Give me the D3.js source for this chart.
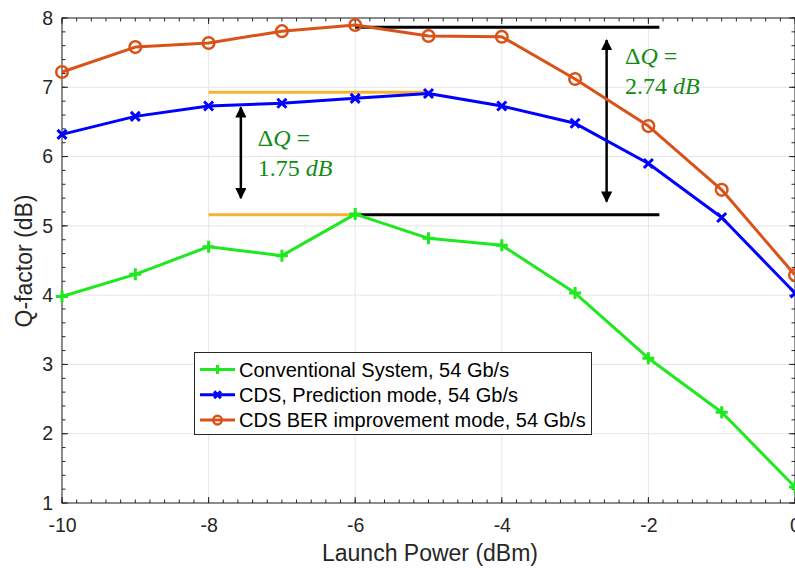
<!DOCTYPE html>
<html><head><meta charset="utf-8">
<script src="https://cdn.jsdelivr.net/npm/d3@7"></script>
<style>body{margin:0;background:#fff}svg{display:block}</style>
</head><body>
<svg id="c" width="795" height="568"></svg>
<script>
const launchPower = [-10,-9,-8,-7,-6,-5,-4,-3,-2,-1,0];
const conventional = [3.98,4.30,4.70,4.57,5.17,4.82,4.72,4.03,3.09,2.31,1.23];
const cdsPrediction = [6.32,6.58,6.73,6.77,6.84,6.91,6.73,6.48,5.90,5.12,4.03];
const cdsBER = [7.22,7.58,7.64,7.81,7.90,7.74,7.73,7.12,6.44,5.52,4.29];
const seriesNames = ["Conventional System, 54 Gb/s","CDS, Prediction mode, 54 Gb/s","CDS BER improvement mode, 54 Gb/s"];
const xTicks = [-10,-8,-6,-4,-2,0];
const yTicks = [1,2,3,4,5,6,7,8];
// annotation reference lines: [x1,x2,y]
const yellowLines = [[-8,-5,6.93],[-8,-6,5.16]];
const blackLines = [[-6,-1.85,5.16],[-6,-1.85,7.865]];
// arrows: [x,yTop,yBottom]
const arrows = [[-7.56,6.71,5.40],[-2.57,7.68,5.35]];
// labels: [x, y line1, y line2, value]
const deltaLabels = [[-7.33,6.15,5.72,"1.75"],[-2.32,7.33,6.91,"2.74"]];

const svg = d3.select("#c");
const L=62,R=795,T=18,B=503;
const x = d3.scaleLinear().domain([-10,0]).range([L,R]);
const y = d3.scaleLinear().domain([1,8]).range([B,T]);
const tickCol="#262626";
const sans="Liberation Sans, Arial, sans-serif";

// grid
const g = svg.append("g");
g.selectAll(".gx").data(xTicks).join("line").attr("x1",d=>x(d)).attr("x2",d=>x(d)).attr("y1",T).attr("y2",B).attr("stroke","#e6e6e6").attr("stroke-width",1);
g.selectAll(".gy").data(yTicks).join("line").attr("y1",d=>y(d)).attr("y2",d=>y(d)).attr("x1",L).attr("x2",R).attr("stroke","#e6e6e6").attr("stroke-width",1);

// axes with inward ticks on all sides
const minorX = d3.range(-10,0.001,0.2).map(v=>+v.toFixed(2));
const minorY = d3.range(1,8.001,0.2).map(v=>+v.toFixed(2));
const ax = svg.append("g").attr("stroke",tickCol).attr("stroke-width",1);
ax.append("rect").attr("x",L).attr("y",T).attr("width",R-L).attr("height",B-T).attr("fill","none");
function xt(vals,len){
  ax.selectAll(null).data(vals).join("line").attr("x1",d=>x(d)).attr("x2",d=>x(d)).attr("y1",B).attr("y2",B-len);
  ax.selectAll(null).data(vals).join("line").attr("x1",d=>x(d)).attr("x2",d=>x(d)).attr("y1",T).attr("y2",T+len);
}
function yt(vals,len){
  ax.selectAll(null).data(vals).join("line").attr("y1",d=>y(d)).attr("y2",d=>y(d)).attr("x1",L).attr("x2",L+len);
  ax.selectAll(null).data(vals).join("line").attr("y1",d=>y(d)).attr("y2",d=>y(d)).attr("x1",R).attr("x2",R-len);
}
xt(minorX,3.5); xt(xTicks,6); yt(minorY,3.5); yt(yTicks,6);

const xAxis = d3.axisBottom(x).tickValues(xTicks).tickSize(0).tickPadding(15).tickFormat(d=>String(d));
const xa = svg.append("g").attr("transform",`translate(0,${B})`).call(xAxis);
xa.select(".domain").remove();
xa.selectAll("text").attr("font-family",sans).attr("font-size",19.5).attr("fill",tickCol);
const yAxis = d3.axisLeft(y).tickValues(yTicks).tickSize(0).tickPadding(9).tickFormat(d=>String(d));
const ya = svg.append("g").attr("transform",`translate(${L},0)`).call(yAxis);
ya.select(".domain").remove();
ya.selectAll("text").attr("font-family",sans).attr("font-size",19.5).attr("fill",tickCol);

svg.append("text").attr("x",430).attr("y",561).attr("text-anchor","middle").attr("font-family",sans).attr("font-size",23).attr("fill",tickCol).text("Launch Power (dBm)");
svg.append("text").attr("transform",`translate(32,261) rotate(-90)`).attr("text-anchor","middle").attr("font-family",sans).attr("font-size",23).attr("fill",tickCol).text("Q-factor (dB)");

// annotation lines
const an = svg.append("g");
an.selectAll(null).data(yellowLines).join("line").attr("x1",d=>x(d[0])).attr("x2",d=>x(d[1])).attr("y1",d=>y(d[2])).attr("y2",d=>y(d[2])).attr("stroke","#f5b335").attr("stroke-width",3);
an.selectAll(null).data(blackLines).join("line").attr("x1",d=>x(d[0])).attr("x2",d=>x(d[1])).attr("y1",d=>y(d[2])).attr("y2",d=>y(d[2])).attr("stroke","#000").attr("stroke-width",3);

// series
const colors = ["#1ee81e","#0000ff","#d95319"];
const datasets = [conventional,cdsPrediction,cdsBER];
const line = d3.line().x((d,i)=>x(launchPower[i])).y(d=>y(d));
const plot = svg.append("g");
datasets.forEach((ds,k)=>{
  plot.append("path").datum(ds).attr("d",line).attr("fill","none").attr("stroke",colors[k]).attr("stroke-width",3).attr("stroke-linejoin","round");
});
function marker(sel,k,cx,cy,s){
  s = s||1;
  if(k===0){
    sel.append("path").attr("d",`M${cx-6*s},${cy}H${cx+6*s}M${cx},${cy-6*s}V${cy+6*s}`).attr("stroke",colors[0]).attr("stroke-width",3).attr("fill","none");
  } else if(k===1){
    sel.append("path").attr("d",`M${cx-4.5*s},${cy-4.5*s}L${cx+4.5*s},${cy+4.5*s}M${cx-4.5*s},${cy+4.5*s}L${cx+4.5*s},${cy-4.5*s}`).attr("stroke",colors[1]).attr("stroke-width",3).attr("fill","none");
  } else {
    sel.append("circle").attr("cx",cx).attr("cy",cy).attr("r",5.8*s).attr("stroke",colors[2]).attr("stroke-width",2.5).attr("fill","none");
  }
}
datasets.forEach((ds,k)=>{
  ds.forEach((v,i)=>marker(plot,k,x(launchPower[i]),y(v)));
});

// arrows
const defs = svg.append("defs");
defs.append("marker").attr("id","ah").attr("viewBox","0 0 10 10").attr("refX",9).attr("refY",5).attr("markerWidth",4.5).attr("markerHeight",4.5).attr("orient","auto-start-reverse").attr("markerUnits","strokeWidth")
  .append("path").attr("d","M0,0L10,5L0,10Z").attr("fill","#000");
an.selectAll(null).data(arrows).join("line").attr("x1",d=>x(d[0])).attr("x2",d=>x(d[0])).attr("y1",d=>y(d[1])).attr("y2",d=>y(d[2])).attr("stroke","#000").attr("stroke-width",2.5).attr("marker-start","url(#ah)").attr("marker-end","url(#ah)");

// delta labels
const lab = svg.append("g").attr("font-family","Liberation Serif, Times New Roman, serif").attr("font-size",24).attr("fill","#128a12");
deltaLabels.forEach(d=>{
  const t1 = lab.append("text").attr("x",x(d[0])).attr("y",y(d[1]));
  t1.append("tspan").text("Δ");
  t1.append("tspan").attr("font-style","italic").text("Q");
  t1.append("tspan").text(" =");
  const t2 = lab.append("text").attr("x",x(d[0])).attr("y",y(d[2]));
  t2.append("tspan").text(d[3]+" ");
  t2.append("tspan").attr("font-style","italic").text("dB");
});

// legend
const lg = svg.append("g");
lg.append("rect").attr("x",194.5).attr("y",352.5).attr("width",397).attr("height",82).attr("fill","#fff").attr("stroke","#262626").attr("stroke-width",1);
seriesNames.forEach((nm,k)=>{
  const cy = 369.5 + k*25.3;
  lg.append("line").attr("x1",200).attr("x2",235).attr("y1",cy).attr("y2",cy).attr("stroke",colors[k]).attr("stroke-width",3);
  marker(lg,k,217.5,cy,0.75);
  lg.append("text").attr("x",239).attr("y",cy+7.2).attr("font-family",sans).attr("font-size",20).attr("fill","#000").text(nm);
});
</script>
</body></html>
